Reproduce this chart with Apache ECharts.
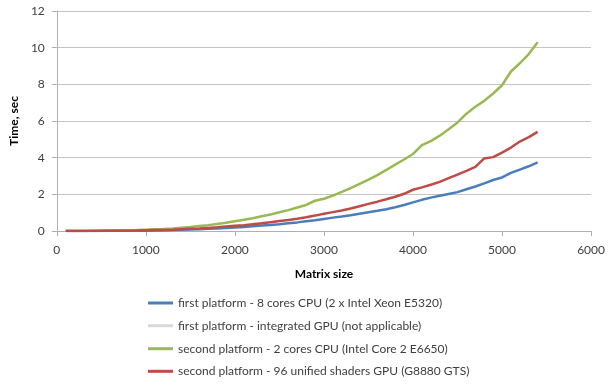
<!DOCTYPE html>
<html>
<head>
<meta charset="utf-8">
<script src="https://cdn.jsdelivr.net/npm/echarts@6/dist/echarts.min.js"></script>
<style>html,body{margin:0;padding:0;background:#fff}#c{width:608px;height:388px}</style>
</head>
<body>
<div id="c"></div>
<script>
var sizes = [100,200,300,400,500,600,700,800,900,1000,1100,1200,1300,1400,1500,1600,1700,1800,1900,2000,2100,2200,2300,2400,2500,2600,2700,2800,2900,3000,3100,3200,3300,3400,3500,3600,3700,3800,3900,4000,4100,4200,4300,4400,4500,4600,4700,4800,4900,5000,5100,5200,5300,5400];
var firstCpu = [0,0,0,0,0,0.01,0.01,0.01,0.02,0.02,0.03,0.04,0.05,0.07,0.08,0.10,0.12,0.14,0.17,0.19,0.22,0.26,0.30,0.33,0.37,0.42,0.47,0.53,0.59,0.66,0.73,0.79,0.86,0.94,1.02,1.10,1.19,1.30,1.42,1.56,1.70,1.82,1.92,2.02,2.12,2.28,2.43,2.60,2.78,2.92,3.17,3.35,3.53,3.74];
var firstGpu = [];
var secondCpu = [0,0,0,0.01,0.01,0.02,0.03,0.04,0.05,0.07,0.09,0.11,0.14,0.18,0.22,0.27,0.32,0.38,0.45,0.53,0.61,0.70,0.80,0.90,1.02,1.14,1.28,1.42,1.65,1.76,1.93,2.13,2.34,2.57,2.80,3.05,3.33,3.62,3.90,4.20,4.68,4.90,5.20,5.55,5.92,6.40,6.78,7.10,7.50,7.95,8.70,9.15,9.65,10.30];
var secondGpu = [0,0,0,0,0.01,0.01,0.01,0.02,0.03,0.04,0.05,0.06,0.07,0.10,0.12,0.14,0.17,0.20,0.24,0.28,0.32,0.37,0.42,0.48,0.54,0.60,0.67,0.75,0.84,0.94,1.03,1.12,1.23,1.35,1.48,1.60,1.73,1.87,2.03,2.25,2.38,2.52,2.68,2.88,3.08,3.28,3.50,3.96,4.03,4.28,4.55,4.88,5.12,5.41];
var names = [
  'first platform - 8 cores CPU (2 x Intel Xeon E5320)',
  'first platform - integrated GPU (not applicable)',
  'second platform - 2 cores CPU (Intel Core 2 E6650)',
  'second platform - 96 unified shaders GPU (G8880 GTS)'
];
var colors = ['#4a7ebb','#d9d9d9','#98b954','#be4b48'];
var values = [firstCpu, firstGpu, secondCpu, secondGpu];
var legendTops = [303, 325.7, 348.7, 371.3];

function pairs(arr){ return arr.map(function(v,i){ return [sizes[i], v]; }); }

var font = 'Lato, "Open Sans", sans-serif';
var chart = echarts.init(document.getElementById('c'), null, {renderer:'canvas'});
chart.setOption({
  animation: false,
  grid: {left:56, right:13, top:11, bottom:157, containLabel:false},
  xAxis: {
    type:'value', min:0, max:6000, interval:1000,
    name:'Matrix size', nameLocation:'middle', nameGap:37,
    nameTextStyle:{fontFamily:font, fontSize:12, fontWeight:'bold', color:'#000'},
    axisLine:{show:true, lineStyle:{color:'#b0b0b0', width:1}},
    axisTick:{show:true, length:5, lineStyle:{color:'#b0b0b0'}},
    axisLabel:{fontFamily:font, fontSize:12, color:'#404040', margin:13, formatter:function(v){return String(v);}},
    splitLine:{show:false}
  },
  yAxis: {
    type:'value', min:0, max:12, interval:2,
    name:'Time, sec', nameLocation:'middle', nameGap:36, nameRotate:90,
    nameTextStyle:{fontFamily:font, fontSize:12, fontWeight:'bold', color:'#000'},
    axisLine:{show:true, lineStyle:{color:'#b0b0b0', width:1}},
    axisTick:{show:true, length:5, lineStyle:{color:'#b0b0b0'}},
    axisLabel:{fontFamily:font, fontSize:12, color:'#404040', margin:12},
    splitLine:{show:true, lineStyle:{color:'#c4c4c4', width:1}}
  },
  legend: names.map(function(n, k){
    return {
      orient:'vertical', left:148, top:legendTops[k] - 7, padding:0,
      itemWidth:25, itemHeight:3, itemGap:0, icon:'rect',
      textStyle:{fontFamily:font, fontSize:12, color:'#404040', lineHeight:14},
      data:[n]
    };
  }),
  series: names.map(function(n, k){
    return {
      name:n, type:'line', data:pairs(values[k]), showSymbol:false, symbol:'none',
      color:colors[k], lineStyle:{width:2.5, color:colors[k]}, smooth:false
    };
  })
});
</script>
</body>
</html>
